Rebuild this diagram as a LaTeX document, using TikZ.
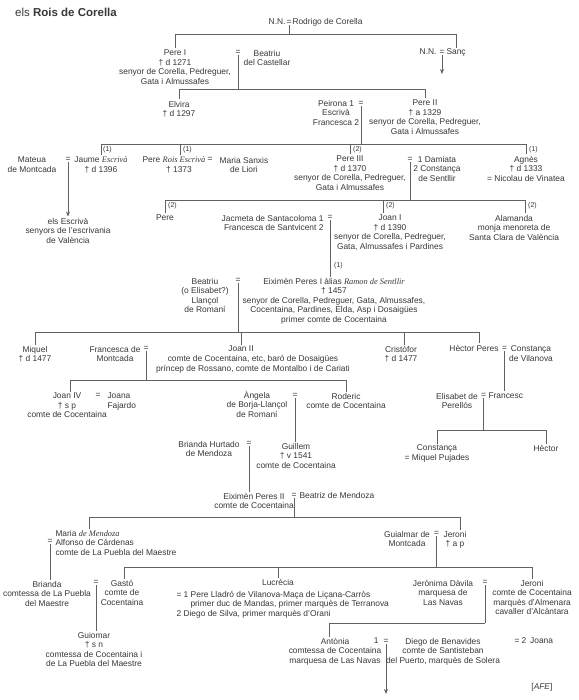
\documentclass[tikz,border=0pt]{standalone}
\usepackage{fontspec}
\setmainfont{Liberation Sans}
\newfontfamily\itfam{Liberation Serif}
\usetikzlibrary{arrows.meta}
\definecolor{txt}{gray}{0.22}
\definecolor{lnc}{gray}{0.38}
\newcommand\ital[1]{{\itfam\itshape #1}}
\newcommand\pfont{\fontsize{8.4}{9.6}\selectfont}
\newcommand\lfont{\fontsize{7}{8}\selectfont}
\tikzset{
  pn/.style={font=\pfont, align=center, inner sep=0pt, outer sep=1.5pt, text=txt},
  lab/.style={font=\lfont, inner sep=0pt, anchor=west, text=txt},
  eqs/.style={font=\pfont, inner sep=0pt, outer sep=0.6pt, text=txt},
  ln/.style={draw=lnc, line width=0.7pt},
  arr/.style={ln, -{Stealth[length=5pt,width=4pt]}},
}
\begin{document}
\begin{tikzpicture}[x=1pt,y=-1pt]
\useasboundingbox[fill=white] (0,0) rectangle (578,700);
% title
\node[anchor=base west, font=\fontsize{11.5}{13}\selectfont, inner sep=0pt, text=txt] (title) at (15,17) {els \textbf{Rois de Corella}};
% generation 0
\node[eqs] (eq0) at (289,22.5) {=};
\node[pn, anchor=base east] (nn0) at (287,25) {N.N.};
\node[pn, anchor=base west] (rod) at (291,25) {Rodrigo de Corella};
\coordinate (b0) at (0,34);
\draw[ln] (eq0.south) -- (eq0.south |- b0);
% generation 1
\node[pn, anchor=north] (pere1) at (175,48.5) {Pere I\\† d 1271\\senyor de Corella, Pedreguer,\\Gata i Almussafes};
\node[eqs] (eq1) at (238,52.5) {=};
\node[pn, anchor=north] (beat1) at (267,48.5) {Beatriu\\del Castellar};
\node[pn, anchor=base east] (nn1) at (438,55) {N.N.};
\node[eqs] (eqs1) at (442,52.5) {=};
\node[pn, anchor=base west] (sanc) at (445,55) {Sanç};
\draw[ln] (pere1.north) |- (sanc.north |- b0) -- (sanc.north);
\coordinate (a1) at (441,74);
\draw[arr] (eqs1.south) -- (eqs1.south |- a1);
% generation 2
\coordinate (b1) at (0,89);
\draw[ln] (eq1.south) -- (eq1.south |- b1);
\node[pn, anchor=north] (elvira) at (179,99.5) {Elvira\\† d 1297};
\node[pn, anchor=north] (pere2) at (425,98.5) {Pere II\\† a 1329\\senyor de Corella, Pedreguer,\\Gata i Almussafes};
\draw[ln] (elvira.north) |- (pere2.north |- b1) -- (pere2.north);
\node[pn, anchor=north] (peirona) at (336,98.5) {Peirona 1\\Escrivà\\Francesca 2};
\node[eqs] (eqp) at (361,103.5) {=};
\coordinate (b2) at (0,144);
\draw[ln] (eqp.south) -- (eqp.south |- b2);
% generation 3
\node[pn, anchor=north] (mateua) at (32,155.5) {Mateua\\de Montcada};
\node[eqs] (eqj) at (68,159.5) {=};
\node[pn, anchor=north] (jaume) at (101,155.5) {Jaume \ital{Escrivà}\\† d 1396};
\node[pn, anchor=north] (escr) at (68,216.5) {els Escrivà\\senyors de l'escrivania\\de València};
\draw[arr] (eqj.south) -- (escr.north);
\node[pn, anchor=north] (prois) at (174,155.5) {Pere \ital{Rois Escrivà}\\\hspace*{10pt}† 1373};
\node[eqs] (eqm) at (210,159.5) {=};
\node[pn, anchor=north] (msanxis) at (244,155.5) {Maria Sanxis\\de Liori};
\node[pn, anchor=north] (pere3) at (350,154.5) {Pere III\\† d 1370\\senyor de Corella, Pedreguer,\\Gata i Almussafes};
\node[eqs] (eqd) at (410,159.5) {=};
\node[pn, anchor=north] (damiata) at (437,154.5) {1 Damiata\\2 Constança\\de Sentllir};
\node[pn, anchor=north] (agnes) at (526,154.5) {Agnès\\† d 1333\\= Nicolau de Vinatea};
\coordinate (pr) at ([xshift=6pt]prois.north);
\draw[ln] (jaume.north) |- (agnes.north |- b2) -- (agnes.north);
\draw[ln] (pr) -- (pr |- b2);
\draw[ln] (pere3.north) -- (pere3.north |- b2);
\node[lab] (l1) at (103,149.5) {(1)};
\node[lab] (l2) at (183,149.5) {(1)};
\node[lab] (l3) at (353,149.5) {(2)};
\node[lab] (l4) at (529,149.5) {(1)};
% generation 4
\coordinate (b3) at (0,200);
\draw[ln] (eqd.south) -- (eqd.south |- b3);
\node[pn, anchor=north] (perex) at (165,213.5) {Pere};
\node[pn, anchor=north east, align=right] (jacmeta) at (325,213.5) {Jacmeta de Santacoloma 1\\Francesca de Santvicent 2};
\node[eqs] (eqjc) at (330,217.5) {=};
\node[pn, anchor=north] (joan1) at (390,213.5) {Joan I\\† d 1390\\senyor de Corella, Pedreguer,\\Gata, Almussafes i Pardines};
\node[pn, anchor=north] (alamanda) at (514,213.5) {Alamanda\\monja menoreta de\\Santa Clara de València};
\coordinate (ala) at ([xshift=11pt]alamanda.north);
\coordinate (jo1) at ([xshift=-7pt]joan1.north);
\draw[ln] (perex.north) |- (ala |- b3) -- (ala);
\draw[ln] (jo1) -- (jo1 |- b3);
\node[lab] (l5) at (168,205.5) {(2)};
\node[lab] (l6) at (386,205.5) {(2)};
\node[lab] (l7) at (528,205.5) {(2)};
% generation 5
\node[pn, anchor=north] (eix1) at (334,276.5) {Eiximèn Peres I àlias \ital{Ramon de Sentllir}\\† 1457\\senyor de Corella, Pedreguer, Gata, Almussafes,\\Cocentaina, Pardines, Elda, Asp i Dosaigües\\primer comte de Cocentaina};
\draw[ln] (eqjc.south) -- (eqjc.south |- eix1.north);
\node[lab] (l8) at (334,266) {(1)};
\node[pn, anchor=north] (beat2) at (205,276.5) {Beatriu\\(o Elisabet?)\\Llançol\\de Romaní};
\node[eqs] (eqb) at (238,280.5) {=};
\coordinate (b4) at (0,332);
\draw[ln] (eqb.south) -- (eqb.south |- b4);
% generation 6
\node[pn, anchor=north] (miquel) at (35,344.5) {Miquel\\† d 1477};
\node[pn, anchor=north] (francm) at (115,344.5) {Francesca de\\Montcada};
\node[eqs] (eqf) at (146,348.5) {=};
\node[pn, anchor=north] (joan2) at (241,344.5) {Joan II};
\node[pn, anchor=north] (joan2t) at (253,354) {comte de Cocentaina, etc, baró de Dosaigües\\príncep de Rossano, comte de Montalbo i de Cariati};
\node[pn, anchor=north] (crist) at (401,344.5) {Cristòfor\\† d 1477};
\node[pn, anchor=base east] (hector) at (500,351) {Hèctor Peres};
\node[eqs] (eqh) at (504.5,348.5) {=};
\node[pn, anchor=north] (constv) at (531,344.5) {Constança\\de Vilanova};
\coordinate (hec) at ([xshift=5pt]hector.north);
\coordinate (cri) at ([xshift=3pt]crist.north);
\draw[ln] (miquel.north) |- (hec |- b4) -- (hec);
\draw[ln] (joan2.north) -- (joan2.north |- b4);
\draw[ln] (cri) -- (cri |- b4);
% generation 7
\coordinate (b5) at (0,380);
\draw[ln] (eqf.south) -- (eqf.south |- b5);
\node[pn, anchor=north] (joan4) at (67,391.5) {Joan IV\\† s p\\comte de Cocentaina};
\node[eqs] (eqj4) at (98,395.5) {=};
\node[pn, anchor=north west, align=left] (joana) at (106,391.5) {Joana\\Fajardo};
\node[pn, anchor=north] (angela) at (257,389.5) {Àngela\\de Borja-Llançol\\de Romaní};
\node[eqs] (eqa) at (295,395.5) {=};
\node[pn, anchor=north] (roderic) at (346,391.5) {Roderic\\comte de Cocentaina};
\coordinate (jo4) at ([xshift=3pt]joan4.north);
\draw[ln] (jo4) |- (roderic.north |- b5) -- (roderic.north);
\node[pn, anchor=north] (elis) at (457,391.5) {Elisabet de\\Perellós};
\node[eqs] (eqe) at (483.5,395.5) {=};
\node[pn, anchor=base west] (francesc) at (487,398) {Francesc};
\draw[ln] (eqh.south) -- (eqh.south |- francesc.north);
% generation 8
\node[pn, anchor=north] (guillem) at (296,441.5) {Guillem\\† v 1541\\comte de Cocentaina};
\draw[ln] (eqa.south) -- (eqa.south |- guillem.north);
\node[pn, anchor=north] (brianda1) at (209,439.5) {Brianda Hurtado\\de Mendoza};
\node[eqs] (eqbr) at (249,443.5) {=};
\coordinate (b6) at (0,430);
\draw[ln] (eqe.south) -- (eqe.south |- b6);
\node[pn, anchor=north] (const2) at (437,443.5) {Constança\\= Miquel Pujades};
\node[pn, anchor=north] (hector2) at (546,443.5) {Hèctor};
\draw[ln] (const2.north) |- (hector2.north |- b6) -- (hector2.north);
% generation 9
\node[pn, anchor=north] (eix2) at (254,491.5) {Eiximèn Peres II\\comte de Cocentaina};
\draw[ln] (eqbr.south) -- (eqbr.south |- eix2.north);
\node[eqs] (eqbz) at (294,495.5) {=};
\node[pn, anchor=base west] (beatriz) at (298,498) {Beatriz de Mendoza};
\coordinate (b7) at (0,517);
\draw[ln] (eqbz.south) -- (eqbz.south |- b7);
\node[pn, anchor=north west, align=left] (maria) at (54,528.5) {Maria \ital{de Mendoza}\\Alfonso de Cárdenas\\comte de La Puebla del Maestre};
\node[eqs] (eqma) at (50,541.5) {=};
\path (maria.north west) ++(35,0) coordinate (mar);
\node[pn, anchor=north] (guialmar) at (407,529.5) {Guialmar de\\Montcada};
\node[eqs] (eqg) at (436.5,533.5) {=};
\node[pn, anchor=north] (jeroni1) at (455,529.5) {Jeroni\\† a p};
\coordinate (jer1) at ([xshift=5pt]jeroni1.north);
\draw[ln] (mar) |- (jer1 |- b7) -- (jer1);
% generation 10
\coordinate (b8) at (0,567);
\draw[ln] (eqg.south) -- (eqg.south |- b8);
\node[pn, anchor=north] (brianda2) at (47,579.5) {Brianda\\comtessa de La Puebla\\del Maestre};
\draw[ln] (eqma.south) -- (eqma.south |- brianda2.north);
\node[eqs] (eqgs) at (96,582.5) {=};
\node[pn, anchor=north] (gasto) at (122,578.5) {Gastó\\comte de\\Cocentaina};
\node[pn, anchor=north] (lucrecia) at (278,577.5) {Lucrècia};
\node[pn, anchor=north west, align=left] (lucd) at (175,589.5) {= 1 Pere Lladró de Vilanova-Maça de Liçana-Carròs\\\hspace*{14pt}primer duc de Mandas, primer marquès de Terranova\\2 Diego de Silva, primer marquès d'Orani};
\node[pn, anchor=north] (jeronima) at (443,578.5) {Jerònima Dàvila\\marquesa de\\Las Navas};
\node[eqs] (eqjd) at (485,582.5) {=};
\node[pn, anchor=north] (jeroni2) at (532,578.5) {Jeroni\\comte de Cocentaina\\marquès d'Almenara\\cavaller d'Alcàntara};
\coordinate (gas) at ([xshift=2pt]gasto.north);
\draw[ln] (gas) |- (jeroni2.north |- b8) -- (jeroni2.north);
\draw[ln] (lucrecia.north) -- (lucrecia.north |- b8);
% generation 11
\node[pn, anchor=north] (guiomar) at (94,630.5) {Guiomar\\† s n\\comtessa de Cocentaina i\\de La Puebla del Maestre};
\draw[ln] (eqgs.south) -- (eqgs.south |- guiomar.north);
\coordinate (b9) at (0,623);
\draw[ln] (eqjd.south) -- (eqjd.south |- b9);
\node[pn, anchor=north] (antonia) at (335,636.5) {Antònia\\comtessa de Cocentaina\\marquesa de Las Navas};
\coordinate (ant) at ([xshift=-6pt]antonia.north);
\draw[ln] (ant) |- (eqjd.south |- b9);
\node[pn, anchor=base east] (one) at (380,643) {1};
\node[eqs] (eqan) at (386,641.5) {=};
\coordinate (a3) at (386,694);
\draw[arr] (eqan.south) -- (a3);
\node[pn, anchor=north] (diego) at (443,636.5) {Diego de Benavides\\comte de Santisteban\\del Puerto, marquès de Solera};
\node[pn, anchor=base west] (joana2) at (513,643) {= 2\, Joana};
\node[pn, anchor=base east] (afe) at (554,689) {[\textit{AFE}]};
\end{tikzpicture}
\end{document}
